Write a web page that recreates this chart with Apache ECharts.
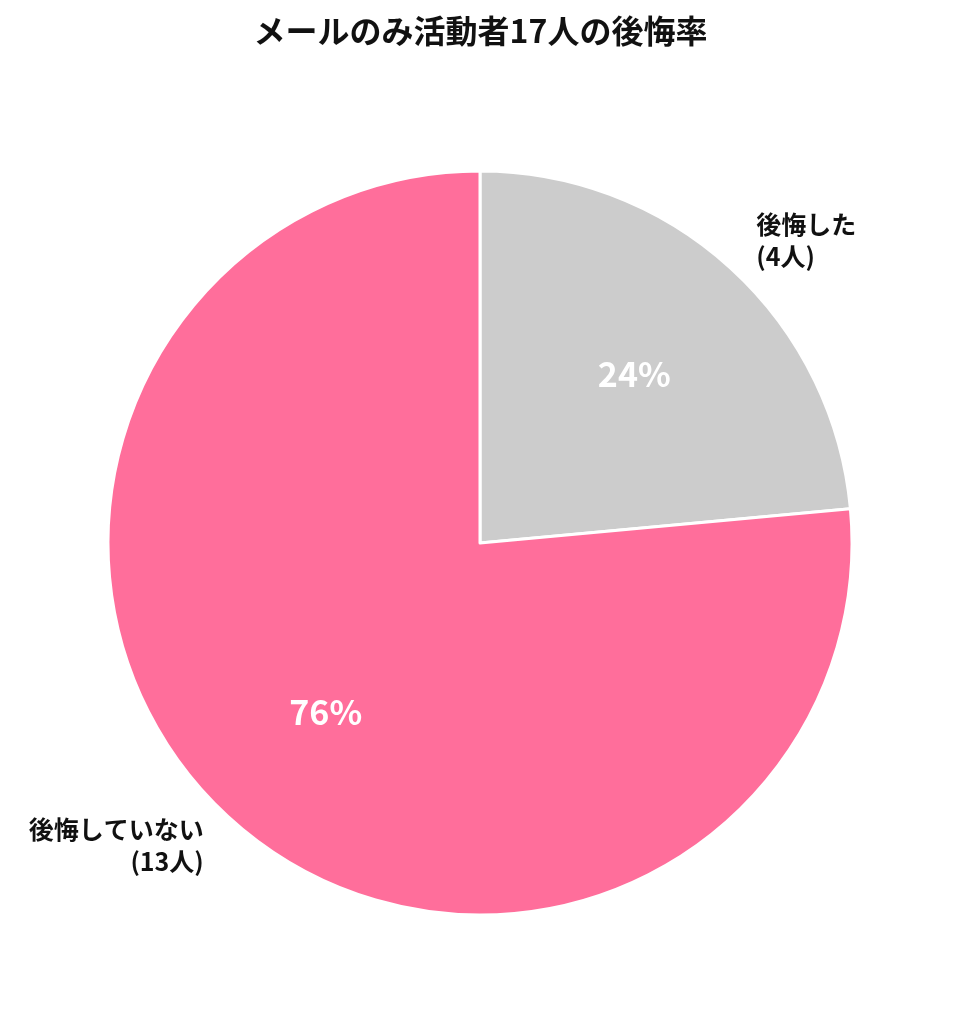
<!DOCTYPE html>
<html><head><meta charset="utf-8">
<script src="https://cdn.jsdelivr.net/npm/echarts@6/dist/echarts.min.js"></script>
<style>html,body{margin:0;padding:0;background:#fff}#c{width:961px;height:1024px}</style>
</head><body><div id="c"></div>
<script>
const titleText = 'メールのみ活動者17人の後悔率';
const categories = ['後悔した', '後悔していない'];
const counts = [4, 13];
const unitLabels = ['(4人)', '(13人)'];
const colors = ['#CCCCCC', '#FF6E9B'];

const total = counts.reduce((a, b) => a + b, 0);
const data = categories.map((n, i) => ({ name: n, value: counts[i], itemStyle: { color: colors[i] } }));
const font = '"Noto Sans CJK JP", "Noto Sans", sans-serif';

const chart = echarts.init(document.getElementById('c'), null, { renderer: 'canvas' });
chart.setOption({
  animation: false,
  backgroundColor: '#fff',
  title: {
    text: titleText, left: 'center', top: 10,
    textStyle: { fontFamily: font, fontSize: 32, fontWeight: 'bold', color: '#111' }
  },
  series: [
    {
      type: 'pie', center: [480, 543], radius: [0, 372], startAngle: 90, clockwise: true,
      data: data,
      itemStyle: { borderColor: '#fff', borderWidth: 3 },
      label: {
        show: true, position: 'outside', distanceToLabelLine: 0,
        fontFamily: font, fontSize: 25, fontWeight: 'bold', color: '#111', lineHeight: 32,
        formatter: p => p.name + '\n' + unitLabels[p.dataIndex]
      },
      labelLine: { show: false, length: 38, length2: 0 },
      emphasis: { disabled: true }
    },
    {
      type: 'pie', center: [480, 543], radius: [80, 372], startAngle: 90, clockwise: true,
      data: data.map(d => ({ name: d.name, value: d.value })),
      itemStyle: { color: 'rgba(0,0,0,0)' },
      label: {
        show: true, position: 'inside',
        fontFamily: font, fontSize: 34, fontWeight: 'bold', color: '#fff',
        formatter: p => Math.round(p.value / total * 100) + '%'
      },
      labelLine: { show: false },
      emphasis: { disabled: true },
      silent: true
    }
  ]
});
</script></body></html>
